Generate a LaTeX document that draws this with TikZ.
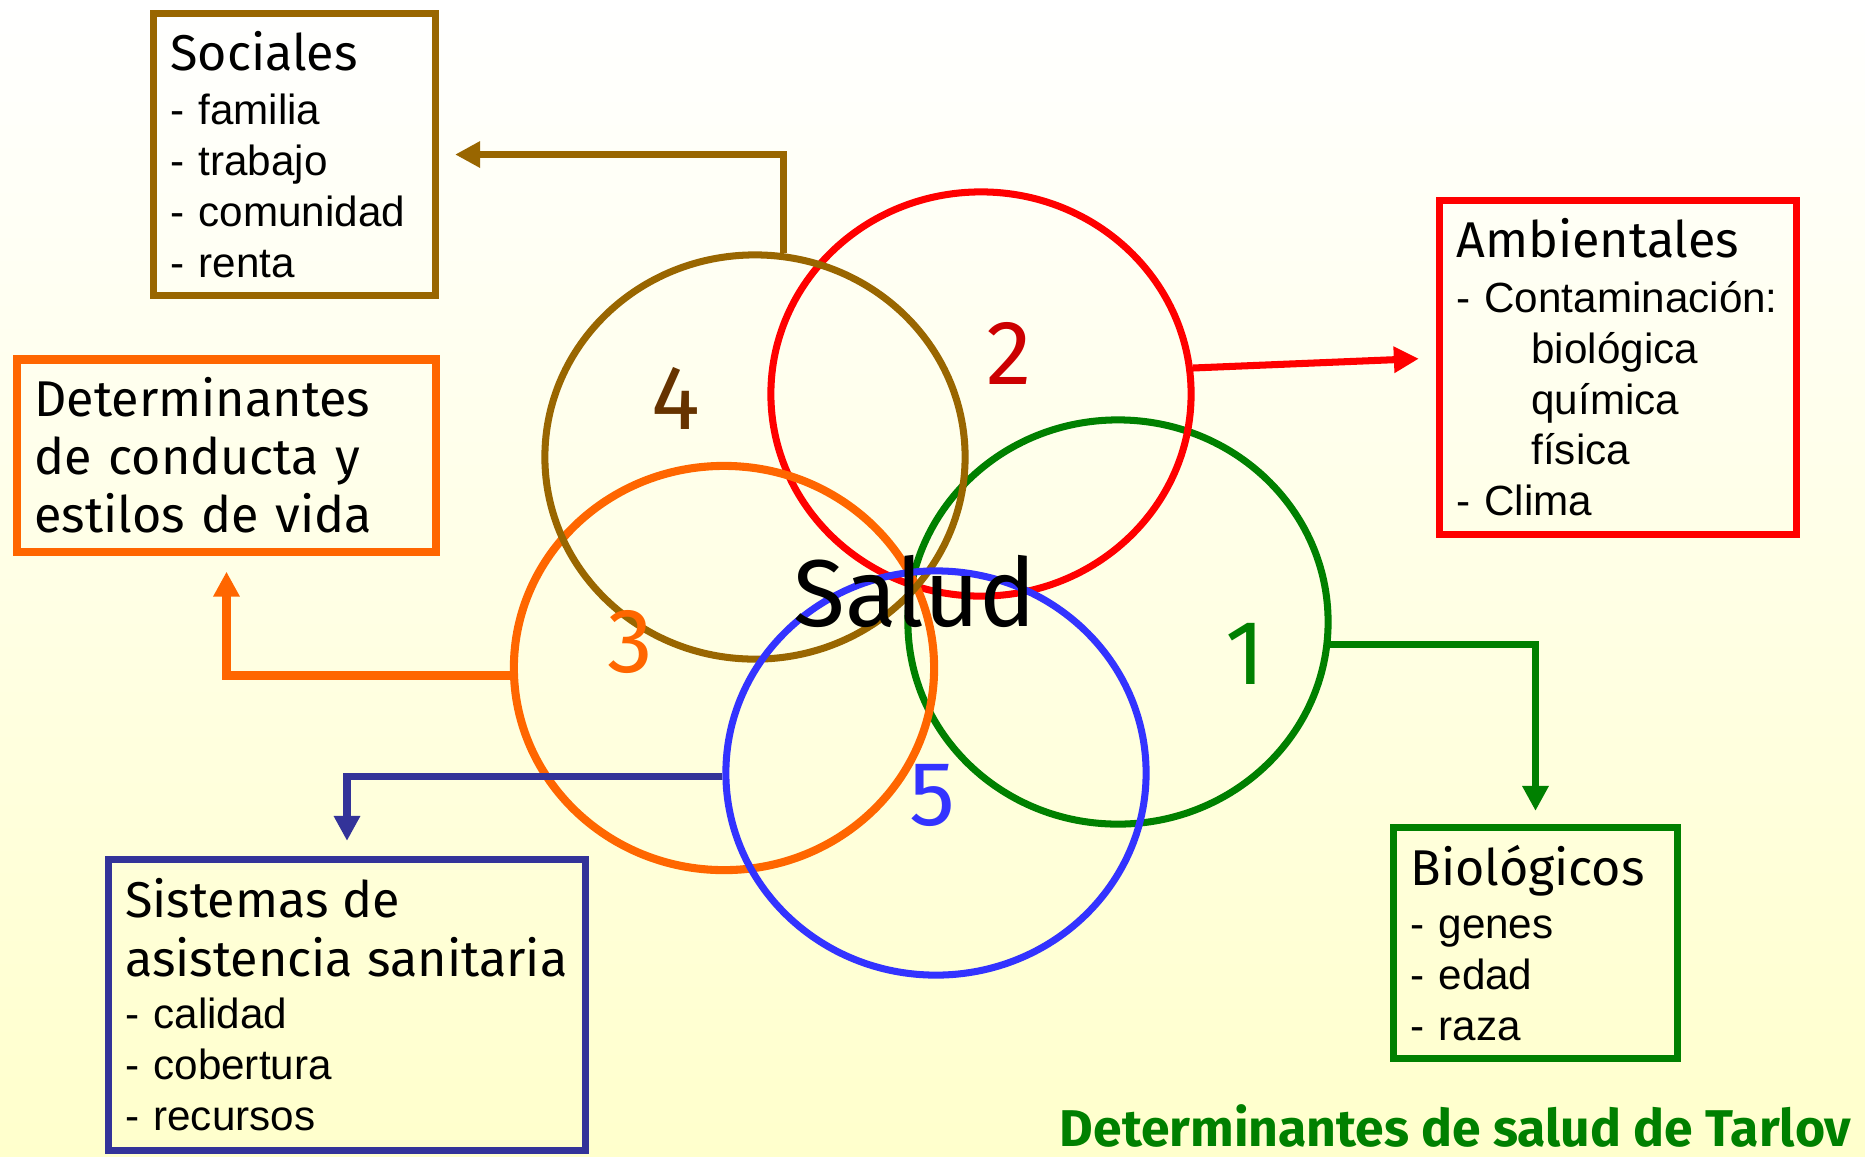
\documentclass[tikz,border=0pt]{standalone}
\usepackage{fontspec}
\setmainfont{Liberation Sans}
\newfontfamily\comicfont{Fira Sans}
\usepackage{tikz}
\usetikzlibrary{arrows.meta,shapes.geometric}

\definecolor{socbrown}{RGB}{153,102,0}
\definecolor{numbrown}{RGB}{102,51,0}
\definecolor{ambred}{RGB}{255,0,0}
\definecolor{numred}{RGB}{204,0,0}
\definecolor{biogreen}{RGB}{0,128,0}
\definecolor{conorange}{RGB}{255,102,0}
\definecolor{sisblue}{RGB}{51,51,255}
\definecolor{sisnavy}{RGB}{51,51,153}
\definecolor{bgyellow}{RGB}{255,255,204}

\newcommand{\ttl}[1]{{\comicfont\fontsize{14.3}{16.5}\selectfont #1}}

\begin{document}
\begin{tikzpicture}[
        x=0.01cm, y=-0.01cm,
        font=\fontsize{12}{14.5}\selectfont,
        box/.style={draw, line width=2pt, inner xsep=0.17cm, inner ysep=0pt, align=left},
        ring/.style={ellipse, draw, line width=2pt, minimum width=4.2cm, minimum height=4.04cm, inner sep=0pt},
        num/.style={font=\comicfont\fontsize{26}{26}\selectfont},
        arr/.style={-{Triangle[length=0.25cm,width=0.25cm]}, line width=2pt}
    ]
        \useasboundingbox (0,0) rectangle (1865,1156);
        \shade[top color=white, bottom color=bgyellow] (0,0) rectangle (1865,1156);

        % the five determinants
        \node[ring, biogreen] (c1) at (1118,622) {};
        \node[ring, ambred] (c2) at (981,394) {};
        \node[ring, conorange, line width=2.3pt] (c3) at (724,668) {};
        \node[ring, socbrown] (c4) at (755,457) {};
        \node[ring, sisblue] (c5) at (936,773) {};

        \node[num, biogreen] (n1) at (1245,654) {1};
        \node[num, numred] (n2) at (1009,353) {2};
        \node[num, conorange] (n3) at (630,642) {3};
        \node[num, numbrown] (n4) at (676,398) {4};
        \node[num, sisblue] (n5) at (932,795) {5};

        % boxes
        \node[box, socbrown, text=black, minimum width=2.82cm, minimum height=2.82cm, text width=2.48cm] (soc) at (294.5,154.5)
            {\ttl{Sociales}\\[0.9pt] - familia\\ - trabajo\\ - comunidad\\ - renta};
        \node[box, conorange, line width=2.3pt, text=black, minimum width=4.18cm, minimum height=1.92cm, text width=3.84cm,
              font=\comicfont\fontsize{14.3}{16.5}\selectfont] (det) at (226.5,455.5)
            {Determinantes\\ de conducta y\\ estilos de vida};
        \node[box, sisnavy, text=black, minimum width=4.77cm, minimum height=2.91cm, text width=4.43cm] (sis) at (347,1005)
            {\ttl{Sistemas de}\\[2.3pt] \mbox{\ttl{asistencia sanitaria}}\\[0.3pt] - calidad\\ - cobertura\\ - recursos};
        \node[box, ambred, text=black, minimum width=3.57cm, minimum height=3.34cm, text width=3.23cm] (amb) at (1618,367.5)
            {\ttl{Ambientales}\\[0.9pt] \mbox{- Contaminación:}\\ \hspace*{0.75cm}biológica\\ \hspace*{0.75cm}química\\ \hspace*{0.75cm}física\\ - Clima};
        \node[box, biogreen, text=black, minimum width=2.84cm, minimum height=2.31cm, text width=2.5cm] (bio) at (1535.5,943)
            {\ttl{Biológicos}\\[0.5pt] - genes\\ - edad\\ - raza};

        % connectors
        \draw[arr, socbrown, shorten >=0.16cm] (c4.82) |- (soc.east);
        \draw[arr, ambred, shorten >=0.17cm] (c2.7) -- (amb.177);
        \draw[arr, conorange, line width=2.3pt, shorten >=0.16cm] (c3.182) -| (det.south);
        \draw[arr, sisnavy, shorten >=0.15cm] (c5.181) -| (sis.north);
        \draw[arr, biogreen, shorten >=0.13cm] (c1.-6) -| (bio.north);

        \node[font=\comicfont\fontsize{27}{27}\selectfont] (salud) at (915,591) {Salud};
        \node[font=\comicfont\bfseries\fontsize{14.7}{14.7}\selectfont, text=biogreen, anchor=base east, inner sep=0pt] (tarlov)
            at (1852,1146) {Determinantes de salud de Tarlov};
    \end{tikzpicture}
\end{document}
